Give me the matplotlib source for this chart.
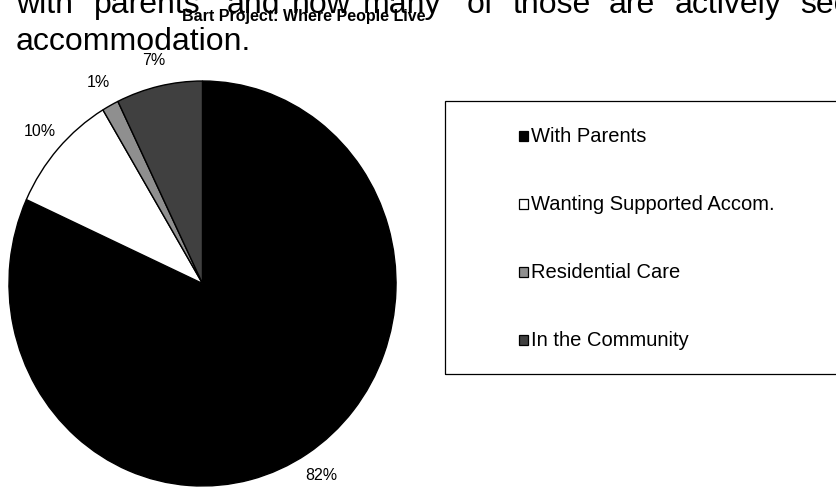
"""Bart Project: where people live (pie chart)."""

import matplotlib
matplotlib.use('Agg')
import matplotlib.pyplot as plt
from matplotlib.patches import Rectangle

categories = ['With Parents', 'Wanting Supported Accom.', 'Residential Care', 'In the Community']
shares = [81.8, 9.6, 1.4, 7.2]
colors = ['#000000', '#ffffff', '#8f8f8f', '#404040']

title = 'Bart Project: Where People Live'
# body text of the page behind the chart (justified first line, cut at the right)
line1_words = ['with', 'parents', 'and', 'how', 'many', 'of', 'those', 'are', 'actively', 'seeking']
line1_x = [16, 94, 227, 292, 363, 467, 513, 609, 675, 800]
line2 = 'accommodation.'

W, H = 837, 488
plt.rcParams['font.family'] = ['Liberation Sans', 'DejaVu Sans']


def fx(px):
    return px / W


def fy(py):
    # pixel from top -> figure fraction
    return 1 - py / H


def main():
    fig = plt.figure(figsize=(W / 100, H / 100), dpi=100)

    # page text
    for word, x in zip(line1_words, line1_x):
        fig.text(fx(x), fy(13), word, fontsize=23, va='baseline', ha='left')
    fig.text(fx(16), fy(50), line2, fontsize=23, va='baseline', ha='left')

    fig.text(fx(304), fy(16), title, fontsize=11.5, fontweight='bold',
             ha='center', va='center', zorder=5)

    # pie (slightly taller than wide, like the original)
    ax = fig.add_axes([fx(8), 1 / H, fx(389), 407 / H])
    wedges, _, pct = ax.pie(shares, colors=colors, startangle=90, counterclock=False,
                            autopct=lambda p: '{:.0f}%'.format(p), pctdistance=1.13,
                            wedgeprops=dict(edgecolor='black', linewidth=1.0),
                            textprops=dict(fontsize=11.5, color='black'))
    ax.set_aspect('auto')
    ax.set_xlim(-1.005, 1.005)
    ax.set_ylim(-1.005, 1.005)
    for t in pct:
        t.set_clip_on(False)

    # legend box (runs off the right edge)
    fig.add_artist(Rectangle((fx(445), fy(374)), fx(400), 273 / H, fill=False,
                             edgecolor='black', linewidth=0.9,
                             transform=fig.transFigure))
    for i, (label, c) in enumerate(zip(categories, colors)):
        yc = 136 + i * 68
        fig.add_artist(Rectangle((fx(519), fy(yc + 5)), fx(9), 10 / H,
                                 facecolor=c, edgecolor='black', linewidth=0.9,
                                 transform=fig.transFigure))
        fig.text(fx(531), fy(yc), label, fontsize=14.5, va='center', ha='left')

    fig.savefig('out.png', dpi=100)


if __name__ == '__main__':
    main()
